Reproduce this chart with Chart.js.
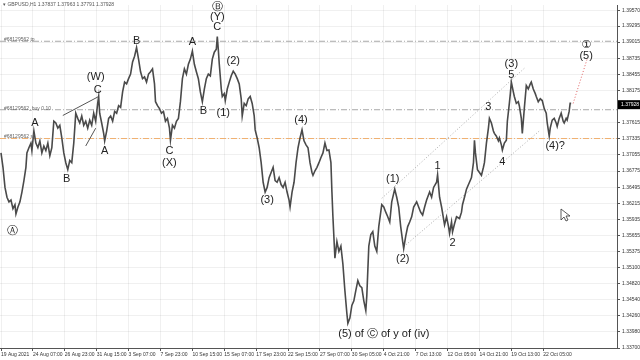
<!DOCTYPE html>
<html>
<head>
<meta charset="utf-8">
<script src="https://cdn.jsdelivr.net/npm/chart.js@4.4.1/dist/chart.umd.min.js"></script>
<style>
html,body{margin:0;padding:0;background:#fff;}
canvas{display:block;}
</style>
</head>
<body>
<canvas id="grafico" width="640" height="360"></canvas>
<script>
// GBPUSD H1, bar number from the left edge and the price
const bars = [0,4,8,12,16,20,24,28,30,34,38,42,46,50,52,56,60,62,66,70,74,78,82,86,90,94,98,102,106,110,114,118,122,126,130,134,138,142,146,150,154,158,162,166,170,174,178,182,186,190,194,196,198,202,206,208,212,216,220,224,228,232,236,240,244,248,252,256,260,264,268,272,276,280,284,288,292,296,300,304,308,310,314,318,322,326,330,334,338,340,344,348,352,356,360,364,368,372,376,380,384,388,392,396,400,404,408,412,416,420,424,428,432,434,436,438,442,444,448,450,454,458,462,466,470,474,478,482,484,488,492,496,500,504,508,510,514,518,522,526,530,534,538,542,546,550,554,558,562,566,570,574,578,580,584,588,592,596,600,604,608,612,616,620,624,626,630,634,638,642,646,650,654,658,662,664,666,670,674,678,682,686,690,694,696,700,704,708,712,716,720,724,728,732,734,738,742,746,750,754,758,764,768,772,776,780,784,790,794,798,802,806,808,812,816,820,824,828,834,838,842,846,850,854,860,864,868,874,876,880,884,890,894,898,900,904,906,910,914,920,924,926,930,934,938,940,944,948,950,952,956,960,964,968,970,974,978,980,984,988,990,994,998,1000,1004,1006,1010,1014,1016,1020,1022,1024,1028,1030,1034,1038,1040,1044,1046,1050,1054,1058,1062,1064,1068,1072,1074,1078,1082,1086,1090,1094,1096,1100,1102,1106,1110,1114,1116,1120,1124,1128,1130,1134,1136,1140,1142,1144];
const prices = [1.3709,1.3684,1.3649,1.3632,1.3624,1.3627,1.3612,1.3619,1.3603,1.3615,1.3624,1.3641,1.3661,1.3684,1.3709,1.3718,1.3726,1.3713,1.3747,1.3726,1.3718,1.3730,1.3709,1.3721,1.3713,1.3726,1.3704,1.3718,1.3764,1.3761,1.3752,1.3757,1.3735,1.3709,1.3692,1.3680,1.3696,1.3692,1.3726,1.3778,1.3769,1.3761,1.3773,1.3757,1.3764,1.3752,1.3766,1.3757,1.3778,1.3764,1.3795,1.3807,1.3778,1.3761,1.3743,1.3730,1.3747,1.3769,1.3773,1.3764,1.3781,1.3778,1.3791,1.3788,1.3815,1.3832,1.3829,1.3838,1.3846,1.3867,1.3877,1.3892,1.3872,1.3850,1.3838,1.3841,1.3832,1.3846,1.3850,1.3855,1.3829,1.3798,1.3791,1.3786,1.3778,1.3781,1.3764,1.3769,1.3752,1.3731,1.3757,1.3752,1.3764,1.3769,1.3798,1.3838,1.3855,1.3846,1.3863,1.3872,1.3886,1.3863,1.3850,1.3838,1.3815,1.3798,1.3820,1.3838,1.3846,1.3843,1.3872,1.3884,1.3889,1.3911,1.3889,1.3863,1.3820,1.3807,1.3812,1.3800,1.3820,1.3832,1.3843,1.3851,1.3846,1.3838,1.3829,1.3803,1.3773,1.3795,1.3791,1.3803,1.3807,1.3795,1.3774,1.3749,1.3735,1.3718,1.3692,1.3658,1.3641,1.3649,1.3666,1.3675,1.3684,1.3661,1.3658,1.3666,1.3654,1.3649,1.3658,1.3641,1.3627,1.3615,1.3641,1.3658,1.3692,1.3718,1.3735,1.3749,1.3730,1.3723,1.3718,1.3692,1.3675,1.3670,1.3678,1.3684,1.3692,1.3701,1.3709,1.3726,1.3713,1.3714,1.3692,1.3641,1.3598,1.3526,1.3555,1.3538,1.3547,1.3516,1.3470,1.3430,1.3413,1.3422,1.3444,1.3452,1.3470,1.3487,1.3478,1.3475,1.3452,1.3435,1.3461,1.3547,1.3567,1.3572,1.3547,1.3538,1.3581,1.3619,1.3615,1.3606,1.3598,1.3589,1.3624,1.3646,1.3632,1.3615,1.3581,1.3555,1.3543,1.3564,1.3581,1.3589,1.3598,1.3615,1.3624,1.3615,1.3606,1.3601,1.3615,1.3627,1.3641,1.3632,1.3649,1.3658,1.3671,1.3632,1.3615,1.3584,1.3598,1.3581,1.3569,1.3589,1.3572,1.3586,1.3598,1.3595,1.3606,1.3619,1.3632,1.3646,1.3654,1.3658,1.3666,1.3692,1.3731,1.3709,1.3680,1.3675,1.3670,1.3684,1.3692,1.3726,1.3752,1.3769,1.3761,1.3747,1.3743,1.3738,1.3730,1.3735,1.3723,1.3714,1.3726,1.3731,1.3764,1.3795,1.3812,1.3832,1.3815,1.3807,1.3795,1.3798,1.3791,1.3769,1.3743,1.3786,1.3826,1.3820,1.3829,1.3832,1.3820,1.3812,1.3807,1.3798,1.3803,1.3800,1.3786,1.3778,1.3761,1.3738,1.3752,1.3766,1.3769,1.3761,1.3755,1.3769,1.3778,1.3764,1.3761,1.3769,1.3766,1.3781,1.3795,1.3795];

const quote = ['GBPUSD,H1', '1.37837', '1.37963', '1.37791', '1.37928'];
const lastPrice = 1.37928;

// axis ticks
const yTicks = [1.39570,1.39295,1.39015,1.38735,1.38455,1.38175,1.37615,1.37335,1.37055,1.36775,1.36495,1.36215,1.35935,1.35655,1.35375,1.35100,1.34820,1.34540,1.34260,1.33980,1.33700];
const xTickBars = [0,64,128,192,256,320,384,448,512,576,640,704,768,832,896,960,1024,1088];
const xTickLabels = ['19 Aug 2021','24 Aug 07:00','26 Aug 23:00','31 Aug 15:00','3 Sep 07:00','7 Sep 23:00','10 Sep 15:00','15 Sep 07:00','17 Sep 23:00','22 Sep 15:00','27 Sep 07:00','30 Sep 05:00','4 Oct 21:00','7 Oct 13:00','12 Oct 05:00','14 Oct 21:00','19 Oct 13:00','22 Oct 05:00'];

// order levels
const levelNames = ['#68129562 tp', '#68129562_buy 0.10', '#68129562 sl'];
const levelPrices = [1.3903, 1.3784, 1.3734];

// drawn lines
const upperBars = [764, 1050], upperPrices = [1.3630, 1.3856];
const lowerBars = [808, 1080], lowerPrices = [1.3546, 1.3747];
const wedgeBars = [124, 196], wedgePrices = [1.3774, 1.3807];
const wedge2Bars = [170, 190], wedge2Prices = [1.3721, 1.3752];
const targetBars = [1148, 1176], targetPrices = [1.3795, 1.3872];

// wave count
const waveText = ['\u24B6','A','B','(W)','C','A','B','C','(X)','A','B','\u24B7','(Y)','C','(1)','(2)','(3)','(4)','(5) of \u24B8 of y of (iv)','(1)','(2)','1','2','3','4','5','(3)','(4)?','\u2460','(5)'];
const waveBar = [24,68,132,190,194,208,272,338,338,384,406,434,434,434,446,466,534,602,768,786,806,876,906,978,1006,1024,1024,1112,1174,1174];
const wavePrice = [1.3574,1.3761,1.3663,1.3841,1.3819,1.3713,1.3904,1.3713,1.3692,1.3901,1.3781,1.3963,1.3945,1.3927,1.3778,1.3868,1.3627,1.3766,1.3394,1.3663,1.3524,1.3687,1.3552,1.3788,1.3694,1.3844,1.3863,1.3721,1.3896,1.3877];

function puntos(xs, ys) {
    return xs.map((x, i) => ({x: x, y: ys[i]}));
}

function linea(xs, ys, color, dash, width) {
    return {
        data: puntos(xs, ys),
        borderColor: color,
        borderWidth: width || 1,
        borderDash: dash,
        pointRadius: 0,
        tension: 0
    };
}

const marcas = {
    id: 'marcas',
    afterDatasetsDraw(chart) {
        const ctx = chart.ctx, sx = chart.scales.x, sy = chart.scales.y;
        ctx.save();
        ctx.font = '5px "Liberation Sans"';
        ctx.fillStyle = '#666';
        ctx.textAlign = 'left';
        ctx.textBaseline = 'bottom';
        levelNames.forEach((n, i) => ctx.fillText(n, 4, sy.getPixelForValue(levelPrices[i]) + 1));

        ctx.font = '11px "Liberation Sans", "DejaVu Sans"';
        ctx.fillStyle = '#222';
        ctx.textAlign = 'center';
        ctx.textBaseline = 'middle';
        waveText.forEach((t, i) => ctx.fillText(t, sx.getPixelForValue(waveBar[i]), sy.getPixelForValue(wavePrice[i])));
        ctx.restore();
    },
    afterDraw(chart) {
        const ctx = chart.ctx, sy = chart.scales.y, area = chart.chartArea;
        ctx.save();
        // header
        ctx.font = '5px "Liberation Sans"';
        ctx.fillStyle = '#555';
        ctx.textAlign = 'left';
        ctx.textBaseline = 'middle';
        ctx.fillText('\u25BE ' + quote.join(' '), 3, 5);
        // current price tag
        const py = sy.getPixelForValue(lastPrice);
        ctx.fillStyle = '#000';
        ctx.fillRect(area.right + 1, py - 4.5, 640 - area.right - 1, 9);
        ctx.fillStyle = '#fff';
        ctx.fillText(lastPrice.toFixed(5), area.right + 4, py);
        // mouse pointer
        ctx.translate(561, 209);
        ctx.beginPath();
        ctx.moveTo(0, 0); ctx.lineTo(0, 11); ctx.lineTo(3, 8); ctx.lineTo(5, 12);
        ctx.lineTo(7, 11); ctx.lineTo(5, 7); ctx.lineTo(9, 7); ctx.closePath();
        ctx.fillStyle = '#fff'; ctx.fill();
        ctx.strokeStyle = '#333'; ctx.lineWidth = 0.8; ctx.stroke();
        ctx.restore();
    }
};

function mostrarGrafico() {
    const datasets = [
        linea(bars, prices, '#4a4a4a', [], 1.6),
        linea(wedgeBars, wedgePrices, '#555', [], 1),
        linea(wedge2Bars, wedge2Prices, '#555', [], 1),
        linea(upperBars, upperPrices, '#aaa', [1, 2], 1),
        linea(lowerBars, lowerPrices, '#aaa', [1, 2], 1),
        linea(targetBars, targetPrices, '#e06060', [1, 2], 1),
        linea([-2, 1236], [levelPrices[0], levelPrices[0]], '#a8a8a8', [6, 2, 1, 2], 1),
        linea([-2, 1236], [levelPrices[1], levelPrices[1]], '#a8a8a8', [6, 2, 1, 2], 1),
        linea([-2, 1236], [levelPrices[2], levelPrices[2]], '#f0b070', [6, 2, 1, 2], 1)
    ];

    new Chart(document.getElementById('grafico'), {
        type: 'line',
        data: {datasets: datasets},
        plugins: [marcas],
        options: {
            responsive: false,
            animation: false,
            devicePixelRatio: 1,
            layout: {padding: 0},
            plugins: {legend: {display: false}, tooltip: {enabled: false}},
            scales: {
                x: {
                    type: 'linear',
                    min: -2,
                    max: 1236,
                    afterFit: s => { s.height = 12; },
                    afterBuildTicks: s => { s.ticks = xTickBars.map(v => ({value: v})); },
                    ticks: {
                        callback: (v, i) => xTickLabels[i],
                        font: {family: 'Liberation Sans', size: 5},
                        color: '#333',
                        align: 'start',
                        padding: 1,
                        maxRotation: 0,
                        autoSkip: false
                    },
                    grid: {color: 'rgba(0,0,0,0.06)', tickLength: 3, tickColor: '#555'},
                    border: {color: '#555'}
                },
                y: {
                    position: 'right',
                    min: 1.3370,
                    max: 1.3966,
                    afterFit: s => { s.width = 23; },
                    afterBuildTicks: s => { s.ticks = yTicks.map(v => ({value: v})); },
                    ticks: {
                        callback: v => v.toFixed(5),
                        font: {family: 'Liberation Sans', size: 5},
                        color: '#333',
                        padding: 2
                    },
                    grid: {color: 'rgba(0,0,0,0.06)', tickLength: 3, tickColor: '#555'},
                    border: {color: '#555'}
                }
            }
        }
    });
}

mostrarGrafico();
</script>
</body>
</html>
